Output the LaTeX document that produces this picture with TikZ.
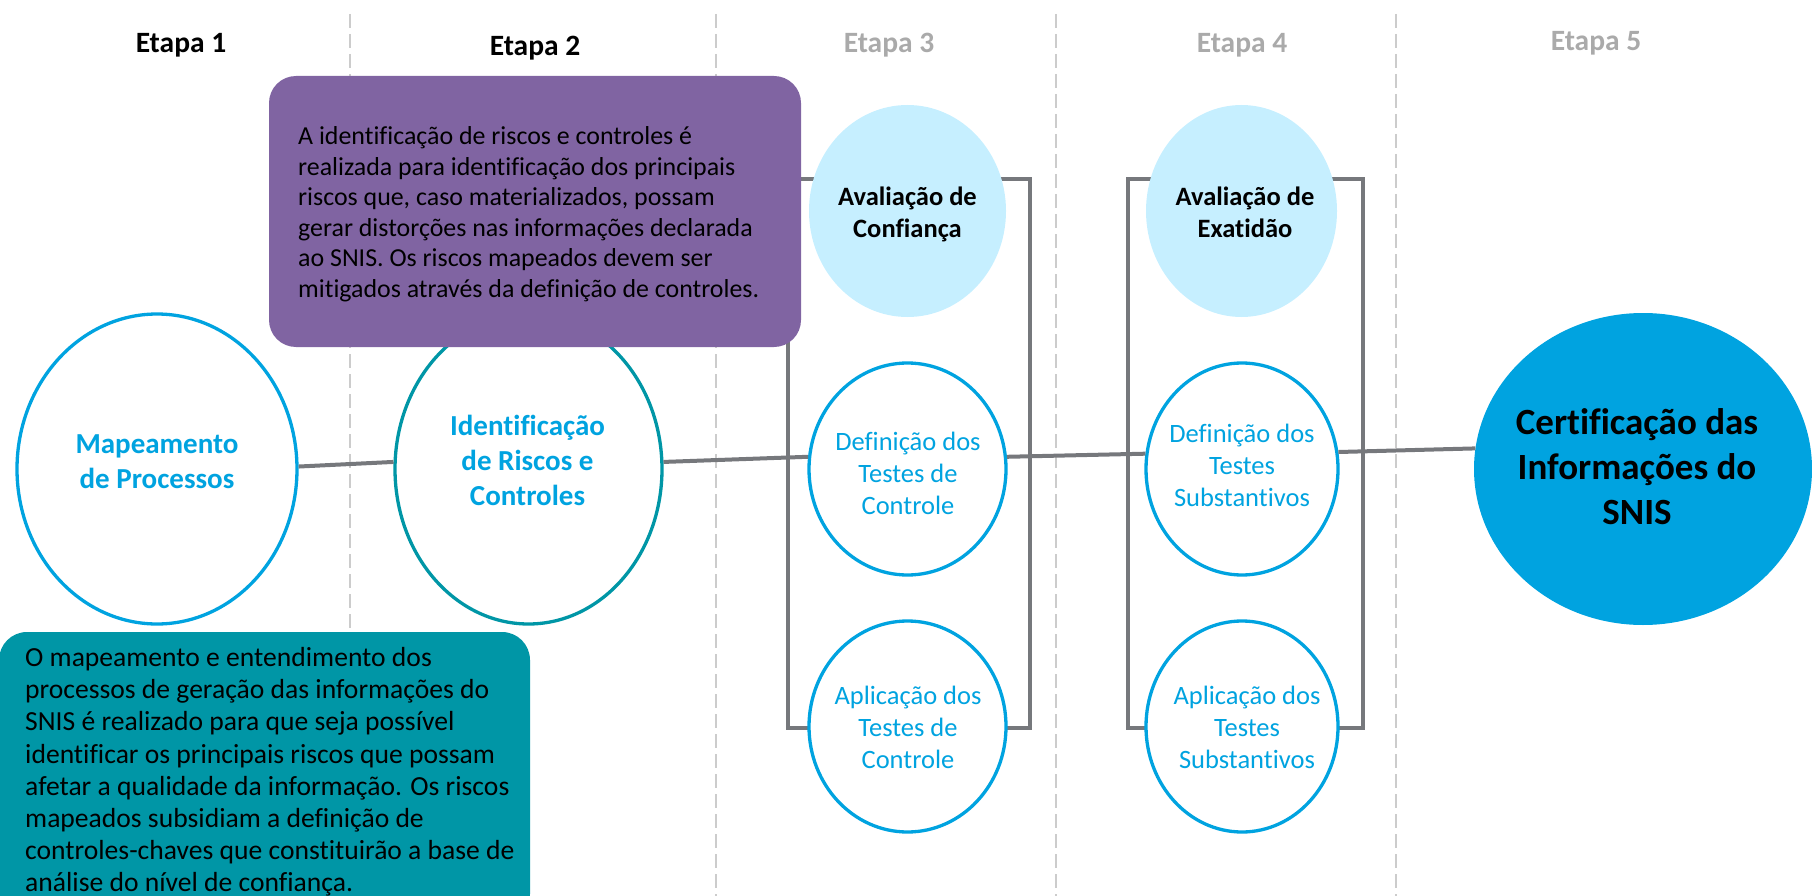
\documentclass[tikz,border=0pt]{standalone}
\usepackage{fontspec}
\setmainfont{Carlito}[Ligatures=NoCommon]
\usetikzlibrary{shapes.geometric}
\definecolor{cblue}{RGB}{0,163,224}
\definecolor{cteal}{RGB}{0,150,166}
\definecolor{cpurple}{RGB}{128,100,162}
\definecolor{clight}{RGB}{198,239,255}
\definecolor{cgray}{RGB}{118,120,124}
\definecolor{cdash}{RGB}{204,204,204}
\definecolor{cetapa}{RGB}{170,170,170}
\begin{document}
\begin{tikzpicture}[x=1pt,y=-1pt,
  conn/.style={draw=cgray,line width=4pt},
  sepline/.style={draw=cdash,line width=2pt,dash pattern=on 14pt off 6pt},
  bracket/.style={draw=cgray,line width=4pt},
  oval/.style={ellipse,inner sep=0pt},
  ringblue/.style={oval,draw=cblue,line width=3.3pt,fill=white},
  ringteal/.style={oval,draw=cteal,line width=3.3pt,fill=white},
  softoval/.style={oval,fill=clight},
  bigoval/.style={oval,fill=cblue},
  boldlabel/.style={align=center,inner sep=0pt,text=cblue,font=\fontsize{29}{35}\selectfont\bfseries},
  steplabel/.style={align=center,inner sep=0pt,text=cblue,font=\fontsize{26.5}{32}\selectfont},
  evallabel/.style={align=center,inner sep=0pt,text=black,font=\fontsize{26.5}{32}\selectfont\bfseries},
  etapa/.style={anchor=base,inner sep=0pt,font=\fontsize{29.5}{35}\selectfont\bfseries},
  notebox/.style={rectangle,inner sep=0pt,draw=none},
  notetext/.style={align=left,inner sep=0pt,text=black,anchor=west}
]
\useasboundingbox (0,0) rectangle (1812,896);
\begin{scope}
\clip (0,0) rectangle (1812,896);

% stage separators
\coordinate (s1t) at (350,14);  \coordinate (s1b) at (350,896);
\coordinate (s2t) at (716,14);  \coordinate (s2b) at (716,896);
\coordinate (s3t) at (1056,14); \coordinate (s3b) at (1056,896);
\coordinate (s4t) at (1396,14); \coordinate (s4b) at (1396,896);
\draw[sepline] (s1t) -- (s1b);
\draw[sepline] (s2t) -- (s2b);
\draw[sepline] (s3t) -- (s3b);
\draw[sepline] (s4t) -- (s4b);

% brackets
\coordinate (b3a) at (788,179);  \coordinate (b3b) at (1030,728);
\coordinate (b4a) at (1128,179); \coordinate (b4b) at (1363,728);
\draw[bracket] (b3a) rectangle (b3b);
\draw[bracket] (b4a) rectangle (b4b);

% shapes
\node[ringblue, minimum width=280, minimum height=310] (map) at (157,469) {};
\node[ringteal, minimum width=267, minimum height=310] (ident) at (528.5,469) {};
\node[softoval, minimum width=197, minimum height=212] (avc) at (907.5,211) {};
\node[ringblue, minimum width=197, minimum height=212] (defc) at (907.5,469) {};
\node[ringblue, minimum width=197, minimum height=211] (aplc) at (907.5,726.5) {};
\node[softoval, minimum width=191, minimum height=212] (ave) at (1241.5,211) {};
\node[ringblue, minimum width=192, minimum height=212] (defs) at (1242,469) {};
\node[ringblue, minimum width=192, minimum height=211] (apls) at (1242,726.5) {};
\node[bigoval, minimum width=338, minimum height=312] (cert) at (1643,469) {};

% connectors
\draw[conn] (map.1.6) -- (ident.177.9);
\draw[conn] (ident.3.4) -- (defc.173.7);
\draw[conn] (defc.7.4) -- (defs.171.2);
\draw[conn] (defs.10.5) -- (cert.173.6);

% labels in shapes
\node[boldlabel] (mapt) at (157,462) {Mapeamento\\de Processos};
\node[boldlabel] (identt) at (527.5,460) {Identificação\\de Riscos e\\Controles};
\node[evallabel] (avct) at (907.5,214.5) {Avaliação de\\Confiança};
\node[evallabel] (avet) at (1245,212) {Avaliação de\\Exatidão};
\node[steplabel] (defct) at (908,473) {Definição dos\\Testes de\\Controle};
\node[steplabel] (aplct) at (908,727) {Aplicação dos\\Testes de\\Controle};
\node[steplabel] (defst) at (1242,465) {Definição dos\\Testes\\Substantivos};
\node[steplabel] (aplst) at (1247,727) {Aplicação dos\\Testes\\Substantivos};
\node[align=center,inner sep=0pt,text=black,font=\fontsize{37}{45}\selectfont\bfseries] (certt) at (1637,467) {Certificação das\\Informações do\\SNIS};

% note boxes
\node[notebox, fill=cpurple, rounded corners=27pt, minimum width=532, minimum height=271] (pbox) at (535,211.5) {};
\node[notetext, font=\fontsize{25.9}{30.5}\selectfont] (ptext) at (298,214) {A identificação de riscos e controles é\\
realizada para identificação dos principais\\
riscos que, caso materializados, possam\\
gerar distorções nas informações declarada\\
ao SNIS. Os riscos mapeados devem ser\\
mitigados através da definição de controles.};

\node[notebox, fill=cteal, rounded corners=28pt, minimum width=531, minimum height=290] (tbox) at (264.5,777) {};
\node[notetext, font=\fontsize{27.6}{32.2}\selectfont] (ttext) at (25,772) {O mapeamento e entendimento dos\\
processos de geração das informações do\\
SNIS é realizado para que seja possível\\
identificar os principais riscos que possam\\
afetar a qualidade da informação. Os riscos\\
mapeados subsidiam a definição de\\
controles-chaves que constituirão a base de\\
análise do nível de confiança.};

% stage titles
\node[etapa, text=black] (e1) at (181,53) {Etapa 1};
\node[etapa, text=black] (e2) at (535,56) {Etapa 2};
\node[etapa, text=cetapa] (e3) at (889,53) {Etapa 3};
\node[etapa, text=cetapa] (e4) at (1242,53) {Etapa 4};
\node[etapa, text=cetapa] (e5) at (1596,51) {Etapa 5};
\end{scope}
\end{tikzpicture}
\end{document}
